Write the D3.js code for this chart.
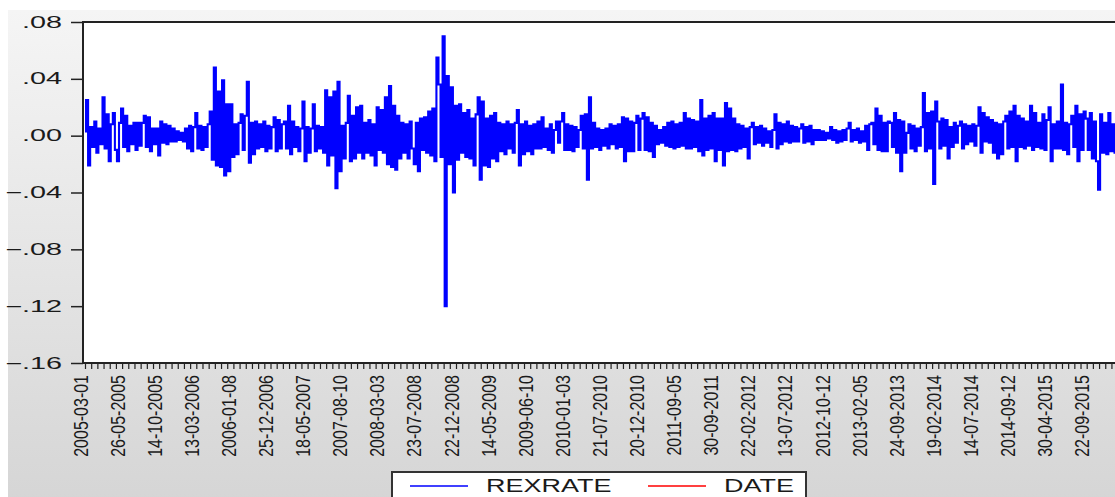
<!DOCTYPE html>
<html>
<head>
<meta charset="utf-8">
<script src="https://cdn.jsdelivr.net/npm/d3@7"></script>
<style>
  body { margin: 0; background: #fff; }
  svg { display: block; font-family: "Liberation Sans", Arial, sans-serif; }
</style>
</head>
<body>
<script>
// date labels under the axis (one every 6 minor ticks)
var dateLabels = ["2005-03-01","26-05-2005","14-10-2005","13-03-2006","2006-01-08","25-12-2006",
  "18-05-2007","2007-08-10","2008-03-03","23-07-2008","22-12-2008","14-05-2009","2009-06-10",
  "2010-01-03","21-07-2010","20-12-2010","2011-09-05","30-09-2011","22-02-2012","13-07-2012",
  "2012-10-12","2013-02-05","24-09-2013","19-02-2014","14-07-2014","2014-09-12","30-04-2015","22-09-2015"];

var yTicks = [0.08, 0.04, 0, -0.04, -0.08, -0.12, -0.16];

// REXRATE, in thousandths; one row per label interval
var rexrate = [
  [3, 25, -21, 6, -8, 10, -12, 5, -6, 27, -9, 15, -18, 8, 16, -10, -18, 9],
  [19, -8, 14, -11, 7, -6, 9, -10, 9, -7, 9, 14, -8, 13, -11, 5, -6, 5],
  [-14, 10, -5, 8, -6, 7, -4, 5, -4, 3, -3, 2, -4, 5, -9, 7, -11, 6],
  [16, -9, 7, -10, 6, -8, 8, 17, -17, 48, -21, 31, -22, 39, -28, 22, -25, 22],
  [-15, 8, -13, 9, 15, -10, 14, 38, -19, 9, -13, 10, -9, 8, -8, 10, -11, 7],
  [-9, 6, 13, -11, 11, -9, 8, 10, -9, 21, -13, 10, -8, 6, -11, 5, 24, -18],
  [6, -12, 5, 22, -11, 7, -9, 6, -12, 32, -21, 27, -14, 31, -37, 38, -25, 7],
  [-16, 9, 28, -18, 14, -16, 20, -12, 21, -16, 9, -12, 11, -14, 8, -21, 20, -10],
  [18, -12, 27, -20, 35, -22, 21, -24, 14, -16, 9, -12, 8, -16, 10, -9, -20, 9],
  [-25, 12, -10, 13, -12, 17, -14, 19, -18, 55, 36, -15, 70, -120, 42, -20, 34, -40],
  [21, -17, 22, -12, 16, -15, 18, -16, 12, -21, 15, 27, -31, 24, -21, 12, -22, 14],
  [-16, 16, -18, 9, -11, 8, -13, 10, -9, 8, -12, 9, 18, -21, 8, -13, 10, -11],
  [7, -13, 8, -9, 10, -9, 13, -8, 5, -10, 8, -12, 4, 10, -5, 10, 16, -10],
  [8, -10, 7, -11, 6, -8, 4, 14, -9, 15, -31, 27, -9, 9, -8, 5, -10, 4],
  [-7, 5, -9, 8, -6, 7, -9, 8, -8, 13, -18, 12, -11, 10, -11, 9, 14, -10],
  [12, 16, -10, 13, -11, 9, -15, 7, -6, 4, -5, 6, -7, 9, -8, 10, -9, 8],
  [-8, 9, -7, 16, -9, 12, -9, 11, -8, 10, -11, 25, -14, 12, -10, 14, -9, 16],
  [-18, 12, -10, 12, -21, 23, -11, 19, -10, 12, -11, 8, -9, 7, -8, 5, -16, 6],
  [9, -6, 6, -5, 7, -7, 5, -5, 3, -8, 4, 15, -9, 9, -6, 8, -4, 10],
  [-5, 7, -4, 6, -4, 5, 8, -5, 6, -4, 7, -6, 4, -3, 4, -3, 3, -3],
  [2, -2, 6, -3, 4, -5, 3, -4, 4, -3, 5, 9, -4, 4, -3, 5, -5, 3],
  [-4, 7, -10, 8, 9, -6, 19, -10, 14, -11, 9, -11, 10, 9, -8, 16, -12, 11],
  [-25, 10, -12, 2, 8, -9, 7, -11, 5, -7, 6, 30, -11, 16, -9, 17, -34, 24],
  [10, -9, 12, -7, 11, -16, 6, -8, 9, -5, 7, 10, -9, 8, -6, 7, -4, 8],
  [-7, 7, 20, -12, 16, -4, 13, -5, 11, -12, 9, -16, 8, -13, 10, 14, -9, 17],
  [-8, 21, -18, 14, -8, 12, -9, 10, -7, 21, -10, 16, -8, 9, -9, 15, -10, 11],
  [20, -18, 8, -9, 10, -9, 36, -10, 9, -13, 8, 14, -8, 21, -18, 15, -10, 17],
  [12, -10, 16, -16, 10, -18, -38, 15, -12, 9, -13, 16, -11, 8, -12, 10, -9, 8]
];

var legendNames = ["REXRATE", "DATE"];
var legendColors = ["#0000ff", "#ff0000"];

var width = 1115, height = 497;
var plot = {left: 83, top: 22, right: 1130, bottom: 363};
var perRow = rexrate[0].length;
var values = d3.merge(rexrate);

var svg = d3.select("body").append("svg")
    .attr("width", width)
    .attr("height", height);

var defs = svg.append("defs");
var grad = defs.append("linearGradient")
    .attr("id", "bg")
    .attr("x1", 0).attr("y1", 0).attr("x2", 0).attr("y2", 1);
grad.append("stop").attr("offset", "0%").attr("stop-color", "#f5f5f5");
grad.append("stop").attr("offset", "100%").attr("stop-color", "#d5d5d5");

defs.append("clipPath").attr("id", "clip")
  .append("rect")
    .attr("x", plot.left).attr("y", plot.top)
    .attr("width", plot.right - plot.left).attr("height", plot.bottom - plot.top);

// grey panel behind everything
svg.append("rect")
    .attr("x", 8).attr("y", 10)
    .attr("width", width).attr("height", height)
    .attr("fill", "url(#bg)");

svg.append("rect")
    .attr("x", plot.left).attr("y", plot.top)
    .attr("width", plot.right - plot.left).attr("height", plot.bottom - plot.top)
    .attr("fill", "#fff");

var x = d3.scaleLinear()
    .domain([0, dateLabels.length])
    .range([85, 85 + 37.1 * dateLabels.length]);

var y = d3.scaleLinear()
    .domain([-0.16, 0.08])
    .range([plot.bottom, plot.top]);

var fmt = function(d) { return d3.format(".2f")(d).replace("0.", "."); };

// y axis
var yAxis = svg.append("g")
    .attr("transform", "translate(" + plot.left + ",0)")
    .call(d3.axisLeft(y).tickValues(yTicks).tickSize(12).tickFormat(fmt));
yAxis.select(".domain").remove();
yAxis.selectAll("line").attr("stroke", "#222").attr("stroke-width", 1.5);
yAxis.selectAll("text")
    .attr("x", -21 / 1.8)
    .attr("transform", "scale(1.8,1)")
    .attr("font-size", 16)
    .attr("fill", "#1a1a1a");

// x axis: minor ticks then rotated labels
var minor = d3.range(0, dateLabels.length * 6 + 1).map(function(i) { return i / 6; });
var xMinor = svg.append("g")
    .attr("transform", "translate(0," + plot.bottom + ")")
    .call(d3.axisBottom(x).tickValues(minor).tickSize(6).tickFormat(""));
xMinor.select(".domain").remove();
xMinor.selectAll("line").attr("stroke", "#222").attr("stroke-width", 1.2);

var xLab = svg.append("g")
    .attr("transform", "translate(0," + plot.bottom + ")")
    .call(d3.axisBottom(x).tickValues(d3.range(dateLabels.length)).tickSize(0)
      .tickFormat(function(i) { return dateLabels[i]; }));
xLab.select(".domain").remove();
xLab.selectAll("text")
    .attr("x", 0).attr("y", 0).attr("dy", 0)
    .attr("text-anchor", "end")
    .attr("transform", "translate(2,12) scale(1.26,1) rotate(-90)")
    .attr("font-size", 16)
    .attr("fill", "#1a1a1a");

// the series, drawn blocky like the original
var line = d3.line()
    .curve(d3.curveStep)
    .x(function(d, i) { return x(i / perRow); })
    .y(function(d) { return y(d / 1000); });

svg.append("path")
    .datum(values)
    .attr("clip-path", "url(#clip)")
    .attr("fill", "none")
    .attr("stroke", "#0000ff")
    .attr("stroke-width", 2.1)
    .attr("d", line);

// frame
svg.append("path")
    .attr("d", "M" + plot.right + "," + plot.top + "H" + plot.left + "V" + plot.bottom + "H" + plot.right)
    .attr("fill", "none")
    .attr("stroke", "#222")
    .attr("stroke-width", 2);

// legend
var lg = svg.append("g");
lg.append("rect")
    .attr("x", 392).attr("y", 472)
    .attr("width", 414).attr("height", 40)
    .attr("fill", "#fff")
    .attr("stroke", "#333")
    .attr("stroke-width", 2);

var items = lg.selectAll(".item")
    .data(legendNames)
    .enter()
    .append("g")
    .attr("class", "item")
    .attr("transform", function(d, i) { return "translate(" + (410 + i * 238) + ",486)"; });

items.append("line")
    .attr("x1", 0).attr("x2", 58)
    .attr("stroke", function(d, i) { return legendColors[i]; })
    .attr("stroke-width", 1.5);

items.append("text")
    .attr("transform", "translate(76,0) scale(1.5,1)")
    .attr("dy", "0.36em")
    .attr("font-size", 18)
    .attr("fill", "#1a1a1a")
    .text(function(d) { return d; });
</script>
</body>
</html>
